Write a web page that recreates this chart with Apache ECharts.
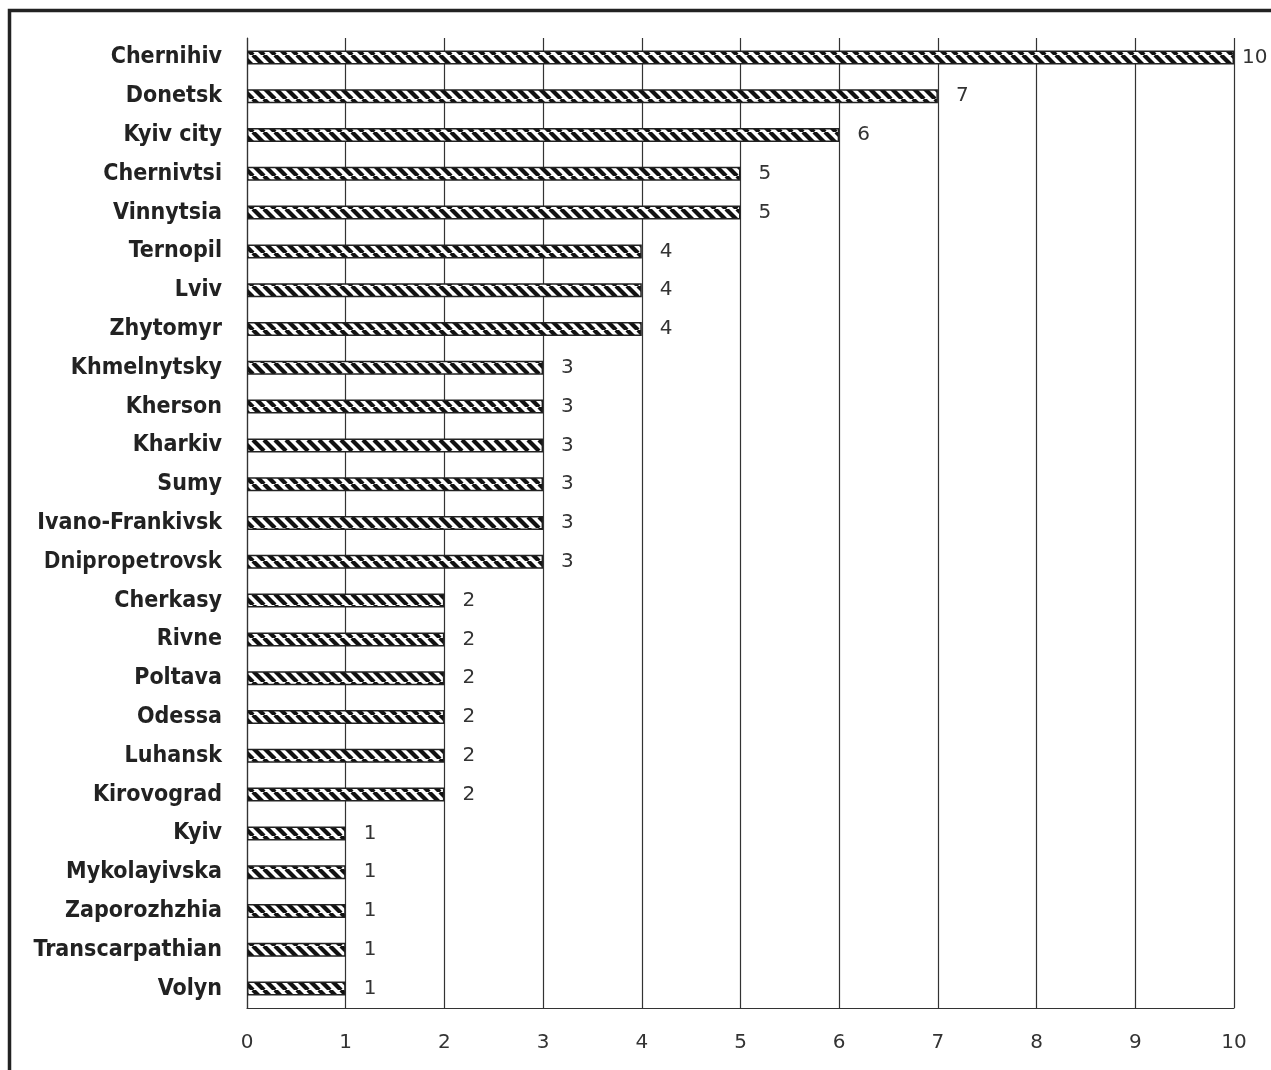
<!DOCTYPE html>
<html>
<head>
<meta charset="utf-8">
<script src="https://cdn.jsdelivr.net/npm/echarts@6/dist/echarts.min.js"></script>
<style>
html,body{margin:0;padding:0;background:#fff;}
#chart{width:1271px;height:1070px;}
</style>
</head>
<body>
<div id="chart"></div>
<script>
var regions = ["Chernihiv","Donetsk","Kyiv city","Chernivtsi","Vinnytsia","Ternopil","Lviv","Zhytomyr","Khmelnytsky","Kherson","Kharkiv","Sumy","Ivano-Frankivsk","Dnipropetrovsk","Cherkasy","Rivne","Poltava","Odessa","Luhansk","Kirovograd","Kyiv","Mykolayivska","Zaporozhzhia","Transcarpathian","Volyn"];
var counts = [10,7,6,5,5,4,4,4,3,3,3,3,3,3,2,2,2,2,2,2,1,1,1,1,1];
var xTicks = [0,1,2,3,4,5,6,7,8,9,10];

// hatch pattern
var P = 11;
var pc = document.createElement('canvas');
pc.width = P; pc.height = P;
var ctx = pc.getContext('2d');
ctx.fillStyle = '#fff';
ctx.fillRect(0,0,P,P);
ctx.strokeStyle = '#111';
ctx.lineWidth = 4.2;
[-P,0,P].forEach(function(k){
  ctx.beginPath();
  ctx.moveTo(k,0);
  ctx.lineTo(k+P,P);
  ctx.stroke();
});

var maxV = Math.max.apply(null, counts);
var chart = echarts.init(document.getElementById('chart'), null, {renderer:'canvas'});
chart.setOption({
  animation:false,
  backgroundColor:'#fff',
  grid:{left:247, right:37, top:38, height:970},
  graphic:[{
    type:'rect', shape:{x:9.5, y:10.5, width:1400, height:1200},
    style:{fill:'none', stroke:'#222', lineWidth:3.5}, z:100, silent:true
  }],
  xAxis:{
    type:'value', min:0, max:10, interval:1,
    axisLine:{show:true, lineStyle:{color:'#333', width:1.2}},
    axisTick:{show:false},
    splitLine:{show:true, lineStyle:{color:'#333', width:1.2}},
    axisLabel:{
      margin:25, fontSize:20, color:'#333', fontFamily:'DejaVu Sans',
      formatter:function(v){ return xTicks.indexOf(v) >= 0 ? String(v) : ''; }
    }
  },
  yAxis:{
    type:'category', data:regions, inverse:true,
    axisLine:{show:true, lineStyle:{color:'#333', width:1.2}},
    axisTick:{show:false},
    axisLabel:{
      margin:25, fontSize:23, fontWeight:'bold', color:'#222',
      fontFamily:'DejaVu Sans Condensed',
      formatter:function(v){ return v === 'Dnipropetrovsk' ? '{alt|' + v + '}' : v; },
      rich:{alt:{fontFamily:'Noto Sans', fontWeight:'bold', fontSize:23, color:'#222'}}
    }
  },
  series:[{
    type:'bar', barWidth:14,
    data:counts.map(function(v){
      return v === maxV ? {value:v, label:{distance:8}} : v;
    }),
    itemStyle:{color:{image:pc, repeat:'repeat'}, borderColor:'#222', borderWidth:1.5},
    label:{show:true, position:'right', distance:18, fontSize:20, color:'#333', fontFamily:'DejaVu Sans'}
  }]
});
</script>
</body>
</html>
